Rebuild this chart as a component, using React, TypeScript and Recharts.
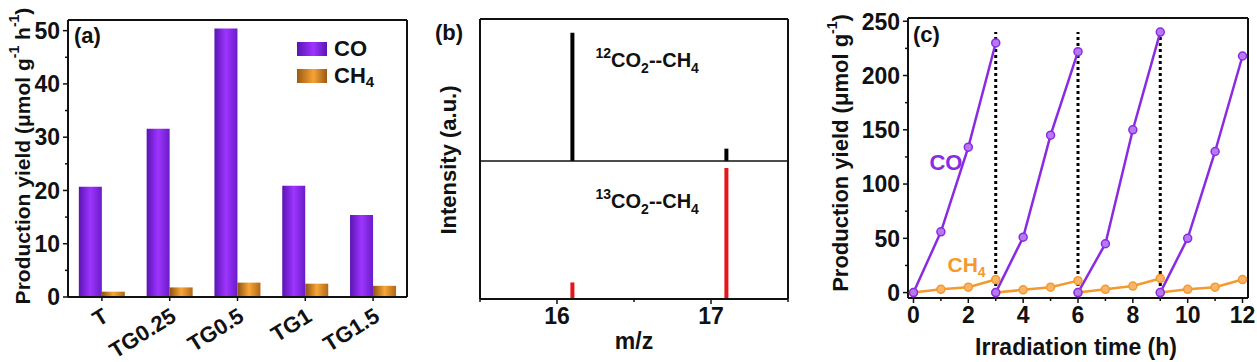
import React from 'react';
import {
  BarChart, Bar, XAxis, YAxis, Legend, ComposedChart, LineChart, Line,
  ReferenceLine, ReferenceDot, Cell, Label,
} from 'recharts';

const FONT = '"Liberation Sans", Arial, Helvetica, sans-serif';
const AXIS = { stroke: '#111', strokeWidth: 2 };

// ---------- Panel (a) ----------
const samples = ['T', 'TG0.25', 'TG0.5', 'TG1', 'TG1.5'];
const coRate = [20.7, 31.6, 50.4, 20.9, 15.4];
const ch4Rate = [1.0, 1.8, 2.7, 2.5, 2.1];
const rateTicks = [0, 5, 10, 15, 20, 25, 30, 35, 40, 45, 50];
const rateLabelled = [0, 10, 20, 30, 40, 50];

// ---------- Panel (b) ----------
const mzPeaks = [16.1, 17.1];
const int12 = [0.93, 0.09];
const int13 = [0.12, 0.95];
const mzTicks = [15.5, 16, 16.5, 17, 17.5];
const mzLabelled = [16, 17];

// ---------- Panel (c) ----------
const cycleTimes = [[0, 1, 2, 3], [3, 4, 5, 6], [6, 7, 8, 9], [9, 10, 11, 12]];
const coCycles = [[0, 56, 134, 230], [0, 51, 145, 222], [0, 45, 150, 240], [0, 50, 130, 218]];
const ch4Cycles = [[0, 3, 5, 12], [0, 2.5, 5, 11], [0, 3, 6, 13], [0, 3, 5, 12]];
const cutTimes = [3, 6, 9];
const timeTicks = [0, 1, 2, 3, 4, 5, 6, 7, 8, 9, 10, 11, 12];
const timeLabelled = [0, 2, 4, 6, 8, 10, 12];
const yieldTicks = [0, 25, 50, 75, 100, 125, 150, 175, 200, 225, 250];
const yieldLabelled = [0, 50, 100, 150, 200, 250];

const CO_COLOR = '#8A2BE2';
const CH4_COLOR = '#F39A2E';

const dataA = samples.map((name, i) => ({ name, co: coRate[i], ch4: ch4Rate[i] }));

const dataB = mzPeaks.flatMap((mz, i) => [
  { mz, range: [1, 1 + int12[i]], color: '#000000' },
  { mz, range: [0, int13[i]], color: '#E8141B' },
]);

const cycleData = (vals: number[][]) =>
  vals.map((cyc, c) => cyc.map((v, k) => ({ t: cycleTimes[c][k], v })));
const coData = cycleData(coCycles);
const ch4Data = cycleData(ch4Cycles);

const textStyle = { fontFamily: FONT, fontWeight: 700 as const, fill: '#111' };

const makeYTick = (labelled: number[], fontSize = 23) => (props: any) => {
  const { x, y, payload } = props;
  const major = labelled.includes(payload.value);
  return (
    <g>
      <line x1={x - (major ? 5 : 3)} x2={x} y1={y} y2={y} stroke="#111" strokeWidth={1.5} />
      {major && (
        <text x={x - 8} y={y} dy="0.36em" textAnchor="end" fontSize={fontSize} {...textStyle}>
          {payload.value}
        </text>
      )}
    </g>
  );
};

const makeXTick = (labelled: number[], fontSize = 23) => (props: any) => {
  const { x, y, payload } = props;
  const major = labelled.includes(payload.value);
  return (
    <g>
      <line x1={x} x2={x} y1={y} y2={y + (major ? 5 : 3)} stroke="#111" strokeWidth={1.5} />
      {major && (
        <text x={x} y={y + 8} dy="0.75em" textAnchor="middle" fontSize={fontSize} {...textStyle}>
          {payload.value}
        </text>
      )}
    </g>
  );
};

const RotTick = (props: any) => {
  const { x, y, payload } = props;
  const ax = x + 8;
  const ay = y + 23;
  return (
    <g>
      <line x1={x} x2={x} y1={y} y2={y + 4} stroke="#111" strokeWidth={1.5} />
      <text x={ax} y={ay} textAnchor="end" fontSize={22} transform={`rotate(-32 ${ax} ${ay})`} {...textStyle}>
        {payload.value}
      </text>
    </g>
  );
};

const LegendA = () => {
  const box = (c1: string, c2: string) => ({
    display: 'inline-block', width: 30, height: 14, marginRight: 7,
    background: `linear-gradient(to right, ${c1}, ${c2} 55%, ${c1})`,
  });
  const row = { display: 'flex', alignItems: 'center', height: 27, fontFamily: FONT, fontWeight: 700, fontSize: 22, color: '#111' };
  return (
    <div>
      <div style={row}><span style={box('#5A14B4', '#9E35FF')} />CO</div>
      <div style={row}><span style={box('#9A5A12', '#F7A236')} />CH<span style={{ fontSize: 15, position: 'relative', top: 6 }}>4</span></div>
    </div>
  );
};

const PanelA = () => (
  <BarChart width={420} height={362} data={dataA} margin={{ top: 19, right: 12, bottom: 15, left: 28 }}
    barCategoryGap="16%" barGap={0}>
    <defs>
      <linearGradient id="gCO" x1="0" y1="0" x2="1" y2="0">
        <stop offset="0%" stopColor="#5A14B4" />
        <stop offset="50%" stopColor="#9E35FF" />
        <stop offset="100%" stopColor="#6A1CC8" />
      </linearGradient>
      <linearGradient id="gCH4" x1="0" y1="0" x2="1" y2="0">
        <stop offset="0%" stopColor="#8F5210" />
        <stop offset="50%" stopColor="#F8A638" />
        <stop offset="100%" stopColor="#B06818" />
      </linearGradient>
    </defs>
    <XAxis xAxisId="b" dataKey="name" interval={0} axisLine={AXIS} tickLine={false} tickSize={0} tickMargin={0}
      height={50} tick={RotTick} />
    <XAxis xAxisId="t" dataKey="name" orientation="top" axisLine={AXIS} tick={false} tickLine={false} height={1}>
      <Label content={(p: any) => (
        <text x={p.viewBox.x + 6} y={p.viewBox.y + 24} fontSize={22} {...textStyle}>(a)</text>
      )} />
    </XAxis>
    <YAxis yAxisId="l" domain={[0, 52]} ticks={rateTicks} interval={0} axisLine={AXIS} tickLine={false}
      tickSize={0} tickMargin={0} width={40} tick={makeYTick(rateLabelled)}>
      <Label content={(p: any) => {
        const cx = p.viewBox.x - 6;
        const cy = 156;
        return (
          <text x={cx} y={cy} textAnchor="middle" dominantBaseline="central" fontSize={21}
            transform={`rotate(-90 ${cx} ${cy})`} {...textStyle}>
            Production yield (μmol g<tspan fontSize={14} dy={-8}>-1</tspan><tspan dy={8}> h</tspan>
            <tspan fontSize={14} dy={-8}>-1</tspan><tspan dy={8}>)</tspan>
          </text>
        );
      }} />
    </YAxis>
    <YAxis yAxisId="r" orientation="right" domain={[0, 52]} axisLine={AXIS} tick={false} tickLine={false} width={1} />
    <Bar xAxisId="b" yAxisId="l" dataKey="co" fill="url(#gCO)" isAnimationActive={false} />
    <Bar xAxisId="b" yAxisId="l" dataKey="ch4" fill="url(#gCH4)" isAnimationActive={false} />
    <Legend layout="vertical" align="center" verticalAlign="middle" content={LegendA}
      wrapperStyle={{ top: 35, left: 297, width: 'auto' }} />
  </BarChart>
);

const PanelB = () => (
  <ComposedChart width={400} height={362} data={dataB} margin={{ top: 18, right: 31, bottom: 15, left: 30 }}>
    <XAxis dataKey="mz" type="number" domain={[15.5, 17.5]} ticks={mzTicks} interval={0} axisLine={AXIS}
      tickLine={false} tickSize={0} tickMargin={0} height={48} tick={makeXTick(mzLabelled)}>
      <Label content={(p: any) => (
        <text x={p.viewBox.x + p.viewBox.width / 2} y={p.viewBox.y + 50} textAnchor="middle" fontSize={23} {...textStyle}>m/z</text>
      )} />
    </XAxis>
    <XAxis xAxisId="t" dataKey="mz" type="number" domain={[15.5, 17.5]} orientation="top" axisLine={AXIS}
      tick={false} tickLine={false} height={1} />
    <YAxis domain={[0, 2.03]} axisLine={AXIS} tick={false} tickLine={false} width={30}>
      <Label content={(p: any) => {
        const cx = p.viewBox.x - 2;
        const cy = 160;
        return (
          <g>
            <text x={cx} y={cy} textAnchor="middle" dominantBaseline="central" fontSize={22}
              transform={`rotate(-90 ${cx} ${cy})`} {...textStyle}>Intensity (a.u.)</text>
            <text x={p.viewBox.x - 15} y={p.viewBox.y + 21} fontSize={22} {...textStyle}>(b)</text>
          </g>
        );
      }} />
    </YAxis>
    <YAxis yAxisId="r" orientation="right" domain={[0, 2.03]} axisLine={AXIS} tick={false} tickLine={false} width={1} />
    <ReferenceLine y={1} stroke="#111" strokeWidth={1.5} />
    <Bar dataKey="range" barSize={4} isAnimationActive={false}>
      {dataB.map((d, i) => <Cell key={i} fill={d.color} />)}
    </Bar>
    {[['12', 1.68], ['13', 0.66]].map(([iso, yv]) => (
      <ReferenceDot key={iso as string} x={16.25} y={yv as number} r={0} stroke="none" fill="none"
        label={(p: any) => (
          <text x={p.viewBox.x} y={p.viewBox.y} fontSize={20} {...textStyle}>
            <tspan fontSize={14} dy={-9}>{iso}</tspan>
            <tspan dy={9}>CO</tspan>
            <tspan fontSize={14} dy={6}>2</tspan>
            <tspan dy={-6}>--CH</tspan>
            <tspan fontSize={14} dy={6}>4</tspan>
          </text>
        )} />
    ))}
  </ComposedChart>
);

const PanelC = () => (
  <LineChart width={437} height={362} margin={{ top: 17, right: 8, bottom: 16, left: 38 }}>
    <XAxis dataKey="t" type="number" domain={[-0.2, 12.2]} ticks={timeTicks} interval={0} axisLine={AXIS}
      tickLine={false} tickSize={0} tickMargin={0} height={48} tick={makeXTick(timeLabelled)} allowDuplicatedCategory={false}>
      <Label content={(p: any) => (
        <text x={p.viewBox.x + p.viewBox.width / 2 - 2} y={p.viewBox.y + 57} textAnchor="middle" fontSize={23} {...textStyle}>
          Irradiation time (h)
        </text>
      )} />
    </XAxis>
    <XAxis xAxisId="t" dataKey="t" type="number" domain={[-0.2, 12.2]} orientation="top" axisLine={AXIS}
      tick={false} tickLine={false} height={1}>
      <Label content={(p: any) => (
        <text x={p.viewBox.x + 5} y={p.viewBox.y + 25} fontSize={22} {...textStyle}>(c)</text>
      )} />
    </XAxis>
    <YAxis domain={[-5, 253]} ticks={yieldTicks} interval={0} axisLine={AXIS} tickLine={false} tickSize={0}
      tickMargin={0} width={50} tick={makeYTick(yieldLabelled)}>
      <Label content={(p: any) => {
        const cx = p.viewBox.x - 18;
        const cy = 153;
        return (
          <text x={cx} y={cy} textAnchor="middle" dominantBaseline="central" fontSize={22}
            transform={`rotate(-90 ${cx} ${cy})`} {...textStyle}>
            Production yield (μmol g<tspan fontSize={14} dy={-8}>-1</tspan><tspan dy={8}>)</tspan>
          </text>
        );
      }} />
    </YAxis>
    <YAxis yAxisId="r" orientation="right" domain={[-5, 253]} axisLine={AXIS} tick={false} tickLine={false} width={1} />
    {cutTimes.map((t) => (
      <ReferenceLine key={t} segment={[{ x: t, y: -5 }, { x: t, y: 240 }]} stroke="#000" strokeWidth={3}
        strokeDasharray="3 3" />
    ))}
    {ch4Data.map((d, i) => (
      <Line key={'m' + i} data={d} dataKey="v" stroke={CH4_COLOR} strokeWidth={2.5} isAnimationActive={false}
        dot={{ r: 4, fill: '#F8B469', stroke: CH4_COLOR, strokeWidth: 1.5 }} />
    ))}
    {coData.map((d, i) => (
      <Line key={'c' + i} data={d} dataKey="v" stroke={CO_COLOR} strokeWidth={2.5} isAnimationActive={false}
        dot={{ r: 4, fill: '#B57AF2', stroke: CO_COLOR, strokeWidth: 1.5 }} />
    ))}
    <ReferenceDot x={0.58} y={113} r={0} stroke="none" fill="none"
      label={(p: any) => (
        <text x={p.viewBox.x} y={p.viewBox.y} fontSize={22} fontFamily={FONT} fontWeight={700} fill={CO_COLOR}>CO</text>
      )} />
    <ReferenceDot x={1.24} y={19} r={0} stroke="none" fill="none"
      label={(p: any) => (
        <text x={p.viewBox.x} y={p.viewBox.y} fontSize={21} fontFamily={FONT} fontWeight={700} fill={CH4_COLOR}>
          CH<tspan fontSize={14} dy={5}>4</tspan>
        </text>
      )} />
  </LineChart>
);

export default function App() {
  return (
    <div style={{ position: 'absolute', left: 0, top: 0, width: 1257, height: 362, background: '#fff' }}>
      <div style={{ position: 'absolute', left: 0, top: 0 }}><PanelA /></div>
      <div style={{ position: 'absolute', left: 420, top: 0 }}><PanelB /></div>
      <div style={{ position: 'absolute', left: 820, top: 0 }}><PanelC /></div>
    </div>
  );
}
